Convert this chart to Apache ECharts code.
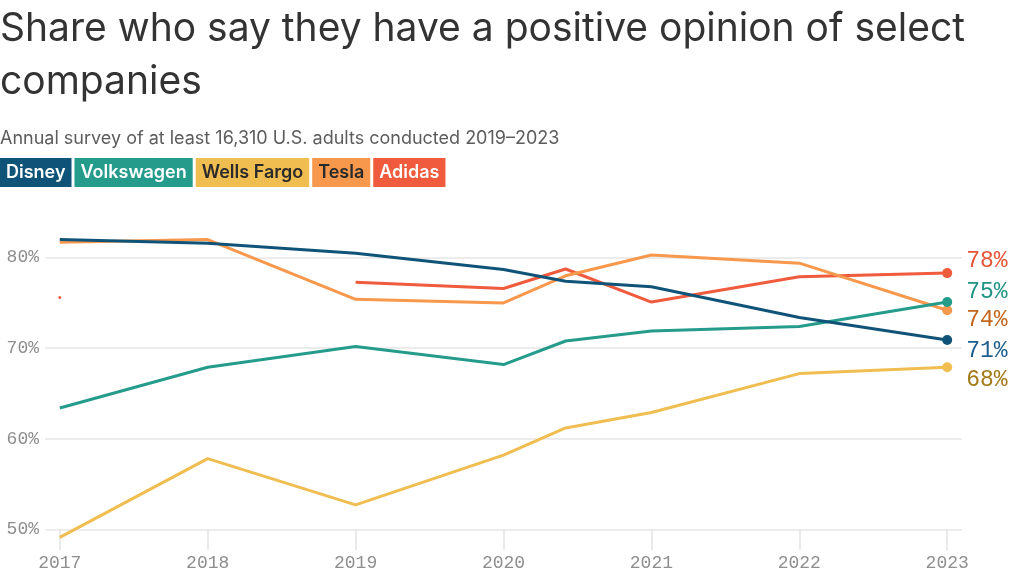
<!DOCTYPE html>
<html>
<head>
<meta charset="utf-8">
<script src="https://cdn.jsdelivr.net/npm/echarts@6/dist/echarts.min.js"></script>
<style>
  html, body { margin: 0; padding: 0; background: #fff; }
  #chart { width: 1024px; height: 576px; }
</style>
</head>
<body>
<div id="chart"></div>
<script>
// survey waves (one extra wave in mid-2020)
const years = [2017, 2018, 2019, 2020, 2020.42, 2021, 2022, 2023]
const tickYears = [2017, 2018, 2019, 2020, 2021, 2022, 2023]

const companies = ['Disney', 'Volkswagen', 'Wells Fargo', 'Tesla', 'Adidas']
const disney = [82.0, 81.6, 80.5, 78.7, 77.4, 76.8, 73.4, 70.9]
const volkswagen = [63.4, 67.9, 70.2, 68.2, 70.8, 71.9, 72.4, 75.1]
const wellsFargo = [49.1, 57.8, 52.7, 58.2, 61.2, 62.9, 67.2, 67.9]
const tesla = [81.7, 82.0, 75.4, 75.0, 78.0, 80.3, 79.4, 74.2]
const adidas = [75.6, null, 77.3, 76.6, 78.75, 75.1, 77.9, 78.3]

// styling per company
const lineColors = {
  'Disney': '#0f5478',
  'Volkswagen': '#259c8b',
  'Wells Fargo': '#f0bd50',
  'Tesla': '#f7984c',
  'Adidas': '#ef5b3c'
}
const labelColors = {
  'Disney': '#1d5f8f',
  'Volkswagen': '#1f9585',
  'Wells Fargo': '#a47a19',
  'Tesla': '#c4661f',
  'Adidas': '#e5553a'
}
const legendTextColors = {
  'Disney': '#ffffff',
  'Volkswagen': '#ffffff',
  'Wells Fargo': '#2a2a2a',
  'Tesla': '#2a2a2a',
  'Adidas': '#ffffff'
}
// vertical nudge of the end labels so they don't collide
const labelNudge = {
  'Disney': 10.5,
  'Volkswagen': -10.5,
  'Wells Fargo': 13,
  'Tesla': 10,
  'Adidas': -12
}

const seriesValues = {
  'Disney': disney,
  'Volkswagen': volkswagen,
  'Wells Fargo': wellsFargo,
  'Tesla': tesla,
  'Adidas': adidas
}

const monoFont = '"Liberation Mono", "DejaVu Sans Mono", monospace'
const sansFont = 'Inter, "Noto Sans", sans-serif'

const buildData = (name) => {
  const vals = seriesValues[name]
  return vals.map((v, i) => {
    if (v === null) return [years[i], '-']
    const last = i === vals.length - 1
    if (last) {
      return {
        value: [years[i], v],
        symbol: 'circle',
        symbolSize: 10,
        label: {
          show: true,
          position: 'right',
          distance: 14,
          offset: [0, labelNudge[name]],
          formatter: p => Math.round(p.value[1]) + '%',
          color: labelColors[name],
          fontFamily: monoFont,
          fontSize: 23
        }
      }
    }
    const prev = i > 0 ? vals[i - 1] : null
    const next = vals[i + 1]
    if (prev === null && (next === null || next === undefined)) {
      // lone point, no segment to draw
      return { value: [years[i], v], symbol: 'circle', symbolSize: 3 }
    }
    return [years[i], v]
  })
}

// draw order: Disney on top
const drawOrder = ['Adidas', 'Tesla', 'Wells Fargo', 'Volkswagen', 'Disney']

const chart = echarts.init(document.getElementById('chart'), null, { renderer: 'canvas' })

chart.setOption({
  animation: false,
  backgroundColor: '#ffffff',
  title: [
    {
      text: 'Share who say they have a positive opinion of select\ncompanies',
      left: 0,
      top: 3,
      padding: 0,
      textStyle: {
        fontFamily: sansFont,
        fontSize: 39,
        fontWeight: 400,
        color: '#333333',
        lineHeight: 53
      }
    },
    {
      text: 'Annual survey of at least 16,310 U.S. adults conducted 2019\u20132023',
      left: 0,
      top: 129,
      padding: 0,
      textStyle: {
        fontFamily: sansFont,
        fontSize: 18,
        fontWeight: 400,
        color: '#5c5c5c',
        lineHeight: 20
      }
    }
  ],
  legend: {
    left: -5,
    top: 158,
    padding: 0,
    icon: 'none',
    itemWidth: 0,
    itemHeight: 0,
    itemGap: -2,
    selectedMode: false,
    data: companies.map(name => ({
      name,
      textStyle: {
        color: legendTextColors[name],
        backgroundColor: lineColors[name],
        padding: [5, 6, 5, 6],
        fontFamily: sansFont,
        fontSize: 18,
        fontWeight: 600,
        lineHeight: 19
      }
    }))
  },
  grid: {
    left: 45,
    right: 62,
    top: 257.7,
    bottom: 46.7
  },
  xAxis: {
    type: 'value',
    min: 2016.9,
    max: 2023.1,
    axisLine: { show: false },
    splitLine: { show: false },
    axisTick: {
      show: true,
      customValues: tickYears,
      length: 21,
      lineStyle: { color: '#e3e3e3', width: 1.5 }
    },
    axisLabel: {
      customValues: tickYears,
      formatter: v => String(v),
      color: '#8e8e8e',
      fontFamily: monoFont,
      fontSize: 18,
      margin: 25
    }
  },
  yAxis: {
    type: 'value',
    min: 50,
    max: 80,
    interval: 10,
    axisLine: { show: false },
    axisTick: { show: false },
    splitLine: { lineStyle: { color: '#e6e6e6', width: 1.5 } },
    axisLabel: {
      formatter: '{value}%',
      color: '#8e8e8e',
      fontFamily: monoFont,
      fontSize: 18,
      margin: 6
    }
  },
  series: drawOrder.map(name => ({
    name,
    type: 'line',
    clip: false,
    symbol: 'none',
    showSymbol: true,
    connectNulls: false,
    color: lineColors[name],
    lineStyle: { width: 3, color: lineColors[name] },
    itemStyle: { color: lineColors[name] },
    emphasis: { disabled: true },
    data: buildData(name)
  }))
})

window.addEventListener('resize', () => chart.resize())
</script>
</body>
</html>
